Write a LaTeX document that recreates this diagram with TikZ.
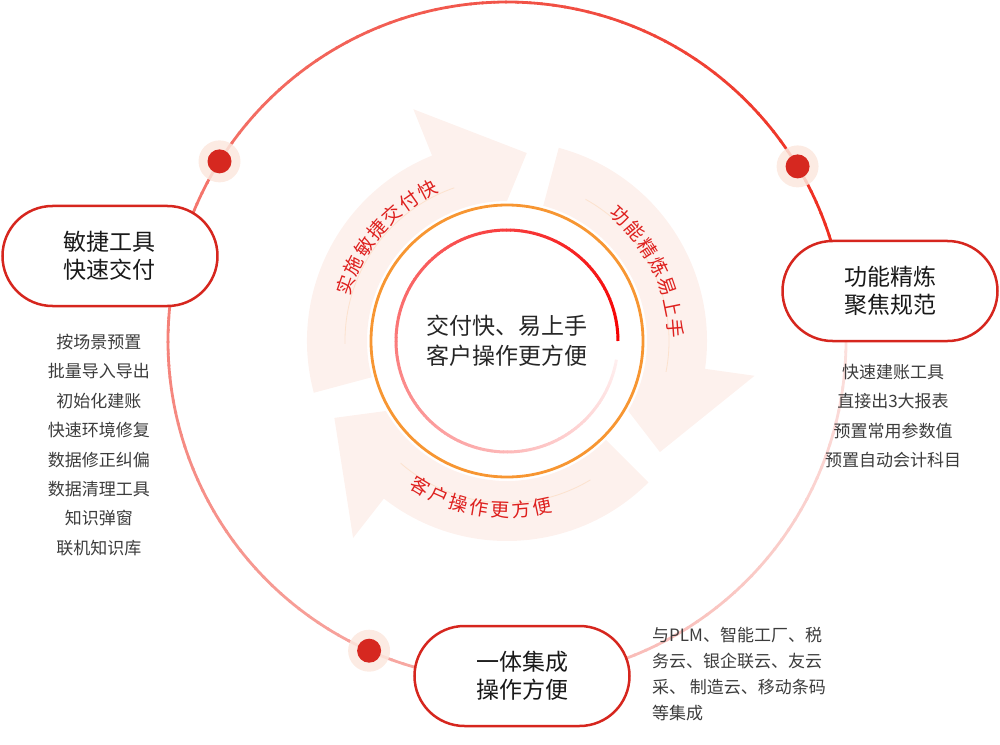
\documentclass[tikz,border=0pt]{standalone}
\usepackage{fontspec}
\setmainfont{Noto Sans CJK SC}
\usetikzlibrary{shapes.misc}
\definecolor{boxred}{RGB}{214,38,30}
\definecolor{dotred}{RGB}{214,40,32}
\definecolor{halo}{RGB}{252,232,222}
\definecolor{ringorange}{RGB}{247,150,50}
\definecolor{ringstart}{RGB}{238,42,28}
\definecolor{ringend}{RGB}{252,230,228}
\definecolor{innerstart}{RGB}{245,0,0}
\definecolor{innerend}{RGB}{255,240,240}
\definecolor{arrowfill}{RGB}{253,241,237}
\definecolor{guide}{RGB}{252,226,206}
\definecolor{arctextred}{RGB}{222,32,30}
\definecolor{listgray}{RGB}{60,60,60}
\begin{document}
\begin{tikzpicture}[x=1pt,y=1pt,every node/.style={inner sep=0pt},
    pill/.style={rounded rectangle, draw=boxred, line width=2.5pt, fill=white, minimum width=215pt, minimum height=100pt, align=center, text=black!90, font=\fontsize{23}{28}\selectfont},
    listtext/.style={align=center, text=listgray, font=\fontsize{17}{29.4}\selectfont},
    arctext/.style={text=arctextred, font=\fontsize{19}{19}\selectfont},
    reddot/.style={circle, fill=dotred, minimum size=24pt},
    halodot/.style={circle, fill=halo, opacity=0.85, minimum size=42pt}]
    \useasboundingbox (-507,341) rectangle (493,-403);
    \coordinate (C) at (0,0);
    % three pale arrows
    \foreach \T in {195,75,-45}{
        \fill[arrowfill] (\T:200pt) arc[start angle=\T, end angle=\T-83, radius=200pt] -- ({\T-83}:250pt) -- ({\T-111}:189pt) -- ({\T-105}:140pt) arc[start angle=\T-105, end angle=\T, radius=140pt] -- cycle;
        \draw[guide, line width=0.8pt] ({\T-14}:162pt) arc[start angle=\T-14, end angle=\T-86, radius=162pt];
    }
    \foreach \ch [count=\i from 0] in {实,施,敏,捷,交,付,快}
        \node[arctext, rotate={71-7.2*\i}] (ta\i) at ({161-7.2*\i}:171pt) {\ch};
    \foreach \ch [count=\i from 0] in {功,能,精,炼,易,上,手}
        \node[arctext, rotate={-42-7.3*\i}] (tb\i) at ({48-7.3*\i}:169pt) {\ch};
    \foreach \ch [count=\i from 0] in {客,户,操,作,更,方,便}
        \node[arctext, rotate={329+7.2*\i}] (tc\i) at ({239+7.2*\i}:169pt) {\ch};
    % rings
    \draw[ringorange, line width=2.8pt] (C) circle[radius=136pt];
    \foreach \a in {0,2,...,348}{
        \pgfmathsetmacro\p{\a/350*100}
        \draw[color={innerend!\p!innerstart}, line width=3pt] (\a:111pt) arc[start angle=\a, end angle=\a+2.3, radius=111pt];
    }
    \node[align=center, text=black!85, font=\fontsize{23}{30}\selectfont] (core) at (C) {交付快、易上手\\客户操作更方便};
    \foreach \a in {10,12,...,368}{
        \pgfmathsetmacro\p{(\a-10)/360*100}
        \draw[color={ringend!\p!ringstart}, line width=2.8pt] (\a:339pt) arc[start angle=\a, end angle=\a+2.3, radius=339pt];
    }
    \foreach \a/\n in {148/d1,31/d2,246/d3}{
        \node[halodot] (h\n) at (\a:339pt) {};
        \node[reddot] (\n) at (\a:339pt) {};
    }
    % boxes and lists
    \node[pill] (tools) at (-397,85) {敏捷工具\\快速交付};
    \node[pill] (refine) at (383,50) {功能精炼\\聚焦规范};
    \node[pill] (integr) at (15,-335) {一体集成\\操作方便};
    \node[listtext] (toollist) at (-408,-104) {按场景预置\\批量导入导出\\初始化建账\\快速环境修复\\数据修正纠偏\\数据清理工具\\知识弹窗\\联机知识库};
    \node[listtext] (refinelist) at (386,-75) {快速建账工具\\直接出3大报表\\预置常用参数值\\预置自动会计科目};
    \node[listtext, align=left, anchor=west, font=\fontsize{17}{26}\selectfont] (integrlist) at (145,-333) {与PLM、智能工厂、税\\务云、银企联云、友云\\采、 制造云、移动条码\\等集成};
\end{tikzpicture}
\end{document}
